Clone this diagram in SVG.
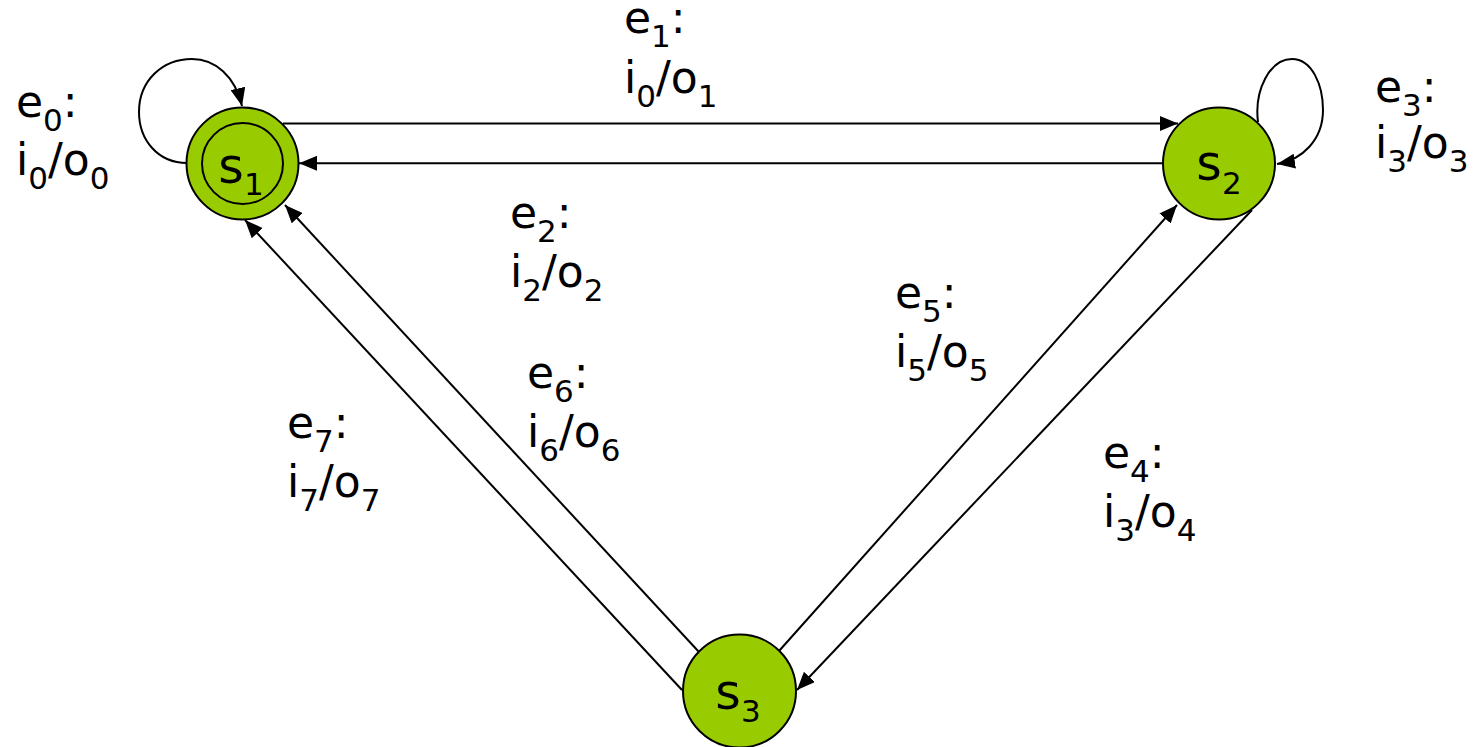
<svg xmlns="http://www.w3.org/2000/svg" width="1484" height="747" viewBox="0 0 1484 747">
<style>
.st{fill:#99CC00;stroke:#000;stroke-width:2}
.in{fill:none;stroke:#000;stroke-width:2}
.ed{fill:none;stroke:#000;stroke-width:2;marker-end:url(#ah)}
.nl{font-family:"DejaVu Sans",Verdana,sans-serif;font-size:49px;fill:#000;text-anchor:middle}
.lb{font-family:"DejaVu Sans",Verdana,sans-serif;font-size:44px;fill:#000}
.sb{font-size:31px}
</style>
<defs>
<marker id="ah" markerUnits="userSpaceOnUse" markerWidth="19" markerHeight="15" refX="18" refY="7.5" orient="auto">
<path d="M0,0 L18,7.5 L0,15 z" fill="#000"/>
</marker>
</defs>
<rect width="1484" height="747" fill="#fff"/>
<g id="connectors">
<path class="ed" d="M187,163 C158,163 139,140 139,112 C139,80 163,59 192,59 C215,59 235,76 242,106"/>
<path class="ed" d="M1258,122 C1254,90 1270,59 1292,59 C1312,59 1323,85 1323,110 C1323,140 1302,160 1277,164"/>
<path class="ed" d="M283,123.5 L1178,123.5"/>
<path class="ed" d="M1163,163.3 L299,163.3"/>
<path class="ed" d="M682,690 L245,220"/>
<path class="ed" d="M699,652 L285,205"/>
<path class="ed" d="M779,651 L1177,205"/>
<path class="ed" d="M1252,210 L797,690"/>
</g>
<g id="s1">
<circle class="st" cx="242.5" cy="163.5" r="56"/>
<circle class="in" cx="242.5" cy="163.5" r="40.5"/>
<text class="nl" x="241" y="182.7">s<tspan class="sb" dy="12">1</tspan></text>
</g>
<g id="s2">
<circle class="st" cx="1219" cy="163.5" r="56"/>
<text class="nl" x="1219" y="180">s<tspan class="sb" dy="14">2</tspan></text>
</g>
<g id="s3">
<circle class="st" cx="739.5" cy="691" r="56.5"/>
<text class="nl" x="738" y="709">s<tspan class="sb" dy="13">3</tspan></text>
</g>
<g id="labels">
<text class="lb" x="16" y="116.7">e<tspan class="sb" dy="14">0</tspan><tspan dy="-14">:</tspan></text>
<text class="lb" x="16" y="175">i<tspan class="sb" dy="14">0</tspan><tspan dy="-14">/o</tspan><tspan class="sb" dy="14">0</tspan></text>
<text class="lb" x="624" y="33.3">e<tspan class="sb" dy="14">1</tspan><tspan dy="-14">:</tspan></text>
<text class="lb" x="624" y="93.3">i<tspan class="sb" dy="14">0</tspan><tspan dy="-14">/o</tspan><tspan class="sb" dy="14">1</tspan></text>
<text class="lb" x="1375" y="101.7">e<tspan class="sb" dy="14">3</tspan><tspan dy="-14">:</tspan></text>
<text class="lb" x="1375" y="158">i<tspan class="sb" dy="14">3</tspan><tspan dy="-14">/o</tspan><tspan class="sb" dy="14">3</tspan></text>
<text class="lb" x="510" y="228.3">e<tspan class="sb" dy="14">2</tspan><tspan dy="-14">:</tspan></text>
<text class="lb" x="510" y="286.7">i<tspan class="sb" dy="14">2</tspan><tspan dy="-14">/o</tspan><tspan class="sb" dy="14">2</tspan></text>
<text class="lb" x="895" y="308.3">e<tspan class="sb" dy="14">5</tspan><tspan dy="-14">:</tspan></text>
<text class="lb" x="895" y="366.7">i<tspan class="sb" dy="14">5</tspan><tspan dy="-14">/o</tspan><tspan class="sb" dy="14">5</tspan></text>
<text class="lb" x="527" y="388.3">e<tspan class="sb" dy="14">6</tspan><tspan dy="-14">:</tspan></text>
<text class="lb" x="527" y="446.7">i<tspan class="sb" dy="14">6</tspan><tspan dy="-14">/o</tspan><tspan class="sb" dy="14">6</tspan></text>
<text class="lb" x="287" y="438.3">e<tspan class="sb" dy="14">7</tspan><tspan dy="-14">:</tspan></text>
<text class="lb" x="287" y="496.7">i<tspan class="sb" dy="14">7</tspan><tspan dy="-14">/o</tspan><tspan class="sb" dy="14">7</tspan></text>
<text class="lb" x="1103" y="468.3">e<tspan class="sb" dy="14">4</tspan><tspan dy="-14">:</tspan></text>
<text class="lb" x="1103" y="526.7">i<tspan class="sb" dy="14">3</tspan><tspan dy="-14">/o</tspan><tspan class="sb" dy="14">4</tspan></text>
</g>
</svg>
